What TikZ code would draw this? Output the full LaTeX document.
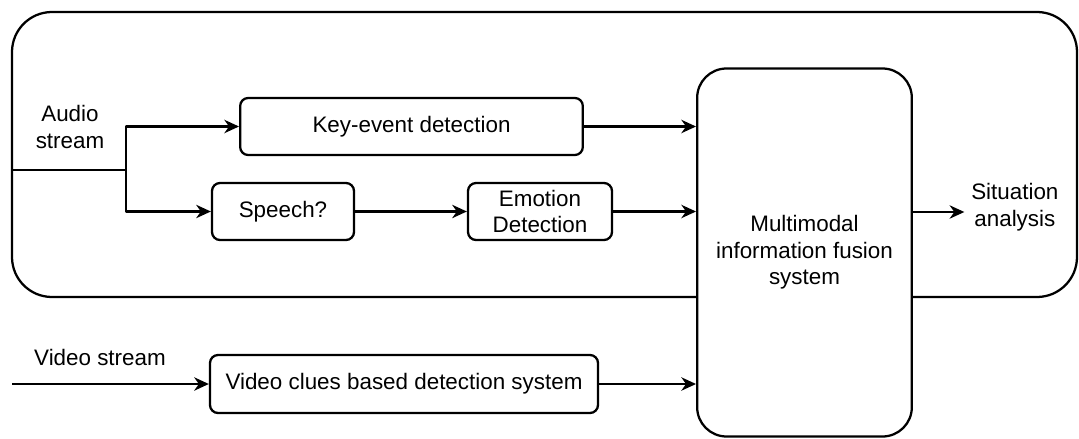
\documentclass[tikz,border=0pt]{standalone}
\usepackage{fontspec}
\setmainfont{Liberation Sans}
\usetikzlibrary{arrows.meta,calc}
\begin{document}
\begin{tikzpicture}[x=0.75pt,y=-0.75pt,
  every node/.style={font=\fontsize{16.8}{20}\selectfont, inner sep=0pt},
  line/.style={line width=1.7pt, line join=round},
  arr/.style={line, -{Stealth[length=11pt,width=10pt,inset=3.5pt]}},
  block/.style={draw, line width=1.7pt, rounded corners=6pt, fill=white, align=center},
  label/.style={align=center}]
  \useasboundingbox (0,0) rectangle (1079,439);

  % audio processing frame
  \draw[line, rounded corners=30pt] (12,12) rectangle (1077,297);

  % processing blocks
  \node[block, minimum width=257pt, minimum height=42.75pt] (key) at (411.5,126.5) {Key-event detection};
  \node[block, minimum width=106.5pt, minimum height=42.75pt] (speech) at (283,211.5) {Speech?};
  \node[block, minimum width=108pt, minimum height=42.75pt] (emo) at (540,211.5) {Emotion\\Detection};
  \node[block, minimum width=291pt, minimum height=43.5pt] (video) at (404,384) {Video clues based detection system};
  \node[block, rounded corners=22pt, minimum width=161pt, minimum height=276pt] (fus) at (804.5,252.5) {Multimodal\\information fusion\\system};

  % text labels
  \node[label] (audio) at (70,127) {Audio\\stream};
  \node[label] (vlab) at (100,357) {Video stream};
  \node[label, anchor=west] (sit) at (971,207) {Situation\\analysis};

  % stream inputs
  \coordinate (ain) at (12,170);
  \coordinate (split) at (126,170);
  \coordinate (vin) at (12,384);

  % connectors
  \draw[line] (ain) -- (split);
  \draw[arr] (split) |- (key.west);
  \draw[arr] (split) |- (speech.west);
  \draw[arr] (speech) -- (emo);
  \draw[arr] (vin) -- (video.west);
  \draw[arr] (key.east) -- (key.east -| fus.west);
  \draw[arr] (emo.east) -- (emo.east -| fus.west);
  \draw[arr] (video.east) -- (video.east -| fus.west);
  \coordinate (out) at (912,212);
  \draw[arr] (out -| fus.east) -- ([xshift=-5pt]out -| sit.west);
\end{tikzpicture}
\end{document}
